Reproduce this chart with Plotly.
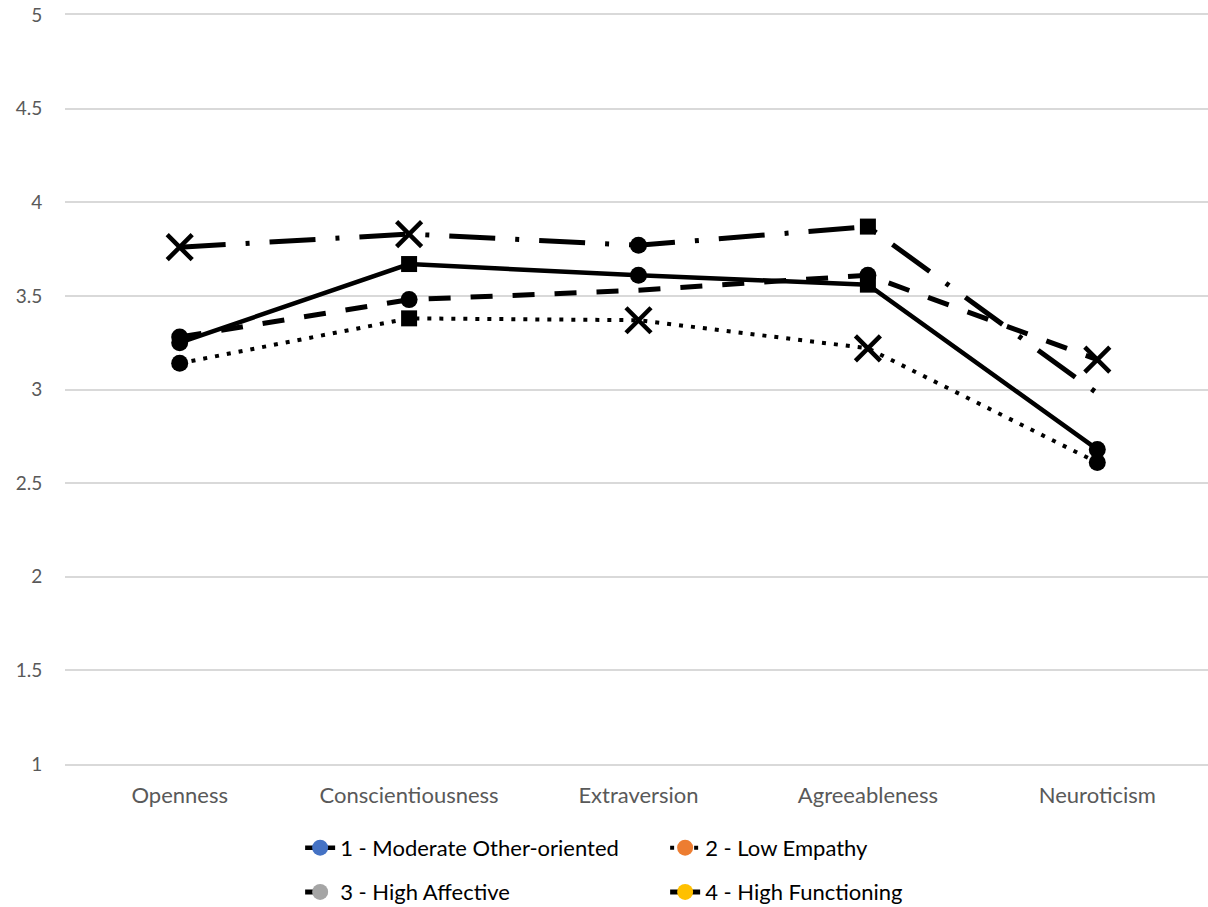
import plotly.graph_objects as go

categories = ["Openness", "Conscientiousness", "Extraversion", "Agreeableness", "Neuroticism"]

s1_name = "1 - Moderate Other-oriented"
s1_vals = [3.25, 3.67, 3.61, 3.56, 2.68]
s1_syms = ["circle", "square", "circle", "square", "circle"]

s2_name = "2 - Low Empathy"
s2_vals = [3.14, 3.38, 3.37, 3.22, 2.61]
s2_syms = ["circle", "square", "x-thin", "x-thin", "circle"]

s3_name = "3 - High Affective"
s3_vals = [3.28, 3.48, 3.53, 3.61, 3.16]
s3_syms = ["circle", "circle", None, "circle", "x-thin"]

s4_name = "4 - High Functioning"
s4_vals = [3.76, 3.83, 3.77, 3.87, 2.98]
s4_syms = ["x-thin", "x-thin", "circle", "square", None]

y_ticks = [1, 1.5, 2, 2.5, 3, 3.5, 4, 4.5, 5]
legend_colors = ["#4472C4", "#ED7D31", "#A5A5A5", "#FFC000"]

FONT = "Lato"
TICK_COLOR = "#595959"
GRID = "#D9D9D9"


def marker_props(syms):
    sym, size, lw = [], [], []
    for s in syms:
        if s is None:
            sym.append("circle"); size.append(0); lw.append(0)
        elif s == "x-thin":
            sym.append("x-thin"); size.append(25); lw.append(4.5)
        elif s == "square":
            sym.append("square"); size.append(16); lw.append(0)
        else:
            sym.append("circle"); size.append(17); lw.append(0)
    return dict(symbol=sym, size=size, color="black", opacity=1,
                line=dict(color="black", width=lw))


series = [
    (s1_name, s1_vals, s1_syms, dict(color="black", width=4.5, dash="solid"), "legend"),
    (s2_name, s2_vals, s2_syms, dict(color="black", width=4, dash="4px,8px"), "legend"),
    (s3_name, s3_vals, s3_syms, dict(color="black", width=5, dash="22px,20px"), "legend2"),
    (s4_name, s4_vals, s4_syms, dict(color="black", width=5, dash="46px,20px,4px,20px"), "legend2"),
]

fig = go.Figure()
for name, vals, syms, line, _ in series:
    fig.add_trace(go.Scatter(
        x=categories, y=vals, mode="lines+markers", name=name,
        line=line, marker=marker_props(syms), showlegend=False,
        cliponaxis=False,
    ))

# legend entries (Excel shows default palette markers in the legend)
for (name, vals, syms, line, lg), col in zip(series, legend_colors):
    fig.add_trace(go.Scatter(
        x=[None], y=[None], mode="lines+markers", name=name,
        line=line, marker=dict(symbol="circle", size=17, color=col, opacity=1),
        showlegend=True, legend=lg,
    ))

legend_common = dict(
    orientation="h", xanchor="left", yanchor="middle",
    entrywidth=320, entrywidthmode="pixels", bgcolor="rgba(0,0,0,0)",
    font=dict(family=FONT, size=22, color="black"),
)

fig.update_layout(
    width=1212, height=907,
    margin=dict(l=65, r=0, t=15, b=143, autoexpand=False),
    paper_bgcolor="white", plot_bgcolor="white",
    font=dict(family=FONT, color=TICK_COLOR, size=19),
    xaxis=dict(
        type="category", showgrid=False, zeroline=False,
        showline=True, linecolor=GRID, linewidth=1.5, mirror=True,
        ticks="outside", ticklen=11, tickcolor="rgba(0,0,0,0)",
        tickfont=dict(family=FONT, size=22, color=TICK_COLOR),
        range=[-0.5, 4.5],
    ),
    yaxis=dict(
        range=[1, 5], tickvals=y_ticks, ticktext=[f"{v:g}" for v in y_ticks],
        showgrid=True, gridcolor=GRID, gridwidth=1.5, zeroline=False,
        showline=False, ticks="outside", ticklen=18, tickcolor="rgba(0,0,0,0)",
        tickfont=dict(family=FONT, size=19, color=TICK_COLOR),
    ),
    legend=dict(x=0.205, y=-0.112, **legend_common),
    legend2=dict(x=0.205, y=-0.171, **legend_common),
)

fig.write_html(
    "out.html",
    config={"displayModeBar": False},
    post_script="document.body.style.margin='0';document.body.style.overflow='hidden';",
)
